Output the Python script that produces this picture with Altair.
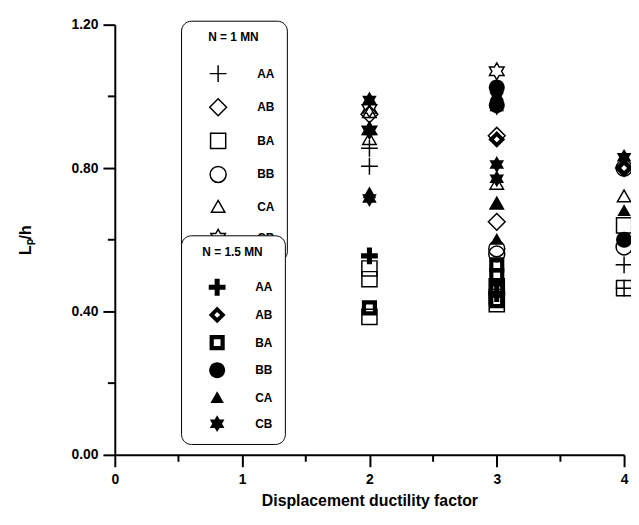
import math
import altair as alt
import pandas as pd

series = ["AA", "AB", "BA", "BB", "CA", "CB"]

# N = 1 MN (open symbols)
open_AA_x = [2, 2, 3, 4, 4]
open_AA_y = [0.855, 0.805, 0.45, 0.53, 0.465]
open_AB_x = [2, 3, 3, 4]
open_AB_y = [0.95, 0.89, 0.65, 0.80]
open_BA_x = [2, 2, 2, 3, 3, 3, 4, 4]
open_BA_y = [0.52, 0.49, 0.385, 0.47, 0.44, 0.42, 0.64, 0.465]
open_BB_x = [3, 3, 4, 4]
open_BB_y = [0.575, 0.56, 0.58, 0.80]
open_CA_x = [2, 2, 3, 3, 4]
open_CA_y = [0.955, 0.88, 0.755, 0.70, 0.72]
open_CB_x = [2, 2, 3]
open_CB_y = [0.965, 0.905, 1.07]

# N = 1.5 MN (filled symbols)
fill_AA_x = [2, 3]
fill_AA_y = [0.555, 0.45]
fill_AB_x = [3, 4]
fill_AB_y = [0.88, 0.80]
fill_BA_x = [2, 3, 3, 3, 3]
fill_BA_y = [0.41, 0.53, 0.50, 0.46, 0.43]
fill_BB_x = [3, 3, 4]
fill_BB_y = [1.025, 0.975, 0.60]
fill_CA_x = [2, 3, 3, 4]
fill_CA_y = [0.73, 0.70, 0.60, 0.68]
fill_CB_x = [2, 2, 2, 3, 3, 3, 3, 4]
fill_CB_y = [0.99, 0.905, 0.715, 1.00, 0.97, 0.81, 0.77, 0.83]

x_major = [0, 1, 2, 3, 4]
x_minor = [0.5, 1.5, 2.5, 3.5]
y_major = [0.0, 0.4, 0.8, 1.2]
y_minor = [0.2, 0.6, 1.0]

open_sets = {"AA": (open_AA_x, open_AA_y), "AB": (open_AB_x, open_AB_y),
             "BA": (open_BA_x, open_BA_y), "BB": (open_BB_x, open_BB_y),
             "CA": (open_CA_x, open_CA_y), "CB": (open_CB_x, open_CB_y)}
fill_sets = {"AA": (fill_AA_x, fill_AA_y), "AB": (fill_AB_x, fill_AB_y),
             "BA": (fill_BA_x, fill_BA_y), "BB": (fill_BB_x, fill_BB_y),
             "CA": (fill_CA_x, fill_CA_y), "CB": (fill_CB_x, fill_CB_y)}

def to_df(sets, col):
    rows = []
    for s, (xs, ys) in sets.items():
        for xv, yv in zip(xs, ys):
            rows.append({"x": xv, "y": yv, col: s})
    return pd.DataFrame(rows)

df_open = to_df(open_sets, "s1")
df_fill = to_df(fill_sets, "s2")

# symbol shapes
def star_path():
    pts = []
    for k in range(12):
        a = math.radians(-90 + 30 * k)
        r = 1.0 if k % 2 == 0 else 0.58
        pts.append(f"{r*math.cos(a):.3f},{r*math.sin(a):.3f}")
    return "M" + "L".join(pts) + "Z"

STAR = star_path()
THIN_PLUS = "M-1,0L1,0M0,-1L0,1"
THICK_PLUS = "M-1,-0.3L-0.3,-0.3L-0.3,-1L0.3,-1L0.3,-0.3L1,-0.3L1,0.3L0.3,0.3L0.3,1L-0.3,1L-0.3,0.3L-1,0.3Z"
DIAMOND = "M0,-1L1,0L0,1L-1,0Z"
DIAMOND_HOLE = "M0,-1L1,0L0,1L-1,0Z M0,-0.35L-0.35,0L0,0.35L0.35,0Z"
SQUARE = "M-0.9,-0.9L0.9,-0.9L0.9,0.9L-0.9,0.9Z"
SQUARE_HOLE = "M-0.9,-0.9L0.9,-0.9L0.9,0.9L-0.9,0.9Z M-0.4,-0.4L-0.4,0.4L0.4,0.4L0.4,-0.4Z"
CIRCLE = "M-0.95,0A0.95,0.95 0 1,1 0.95,0A0.95,0.95 0 1,1 -0.95,0Z"
TRIANGLE = "M0,-0.8L0.8,0.6L-0.8,0.6Z"

open_shapes = [THIN_PLUS, DIAMOND, SQUARE, CIRCLE, TRIANGLE, STAR]
fill_shapes = [THICK_PLUS, DIAMOND_HOLE, SQUARE_HOLE, CIRCLE, TRIANGLE, STAR]

FONT = "Liberation Sans"
SIZE = 289
W, H = 515, 435

xaxis = alt.Axis(values=x_major, format="d", tickSize=12, tickWidth=2, tickColor="black",
                 domainWidth=2, domainColor="black", grid=False, labelFlush=False,
                 labelFont=FONT, labelFontSize=14, labelFontWeight="bold", labelColor="black",
                 labelPadding=6, title="Displacement ductility factor", titleFont=FONT,
                 titleFontSize=16, titleFontWeight="bold", titleColor="black", titlePadding=6)
yaxis = alt.Axis(values=y_major, format=".2f", tickSize=12, tickWidth=2, tickColor="black",
                 domainWidth=2, domainColor="black", grid=False, labelFlush=False,
                 labelFont=FONT, labelFontSize=14, labelFontWeight="bold", labelColor="black",
                 labelPadding=5, title="Lₚ/h", titleFont=FONT, titleFontSize=16,
                 titleFontWeight="bold", titleColor="black", titleX=-90,
                 titleBaseline="middle", titleAlign="center")

xs = alt.Scale(domain=[0, 4], nice=False, zero=False)
ys = alt.Scale(domain=[0, 1.2], nice=False, zero=False)

def legend(title, ly, filled):
    kw = dict(title=title, orient="none", legendX=67, legendY=ly, strokeColor="black",
              fillColor="white", cornerRadius=10, padding=12, titleFont=FONT, titleFontSize=12,
              titleFontWeight="bold", titleColor="black", titleAnchor="middle", titlePadding=20,
              labelFont=FONT, labelFontSize=12, labelFontWeight="bold", labelColor="black",
              labelOffset=30, symbolOffset=16, symbolSize=SIZE, symbolStrokeColor="black",
              symbolOpacity=1, rowPadding=11)
    if filled:
        kw.update(symbolFillColor="black", symbolStrokeWidth=0)
    else:
        kw.update(symbolStrokeWidth=1.5)
    return alt.Legend(**kw)

open_layer = alt.Chart(df_open).mark_point(filled=False, color="black", strokeWidth=1.5,
                                           size=SIZE, opacity=1).encode(
    x=alt.X("x:Q", scale=xs, axis=xaxis),
    y=alt.Y("y:Q", scale=ys, axis=yaxis),
    shape=alt.Shape("s1:N", scale=alt.Scale(domain=series, range=open_shapes),
                    legend=legend("N = 1 MN", -4, False)),
)

fill_layer = alt.Chart(df_fill).mark_point(filled=True, color="black", size=SIZE,
                                           opacity=1).encode(
    x=alt.X("x:Q", scale=xs, axis=xaxis),
    y=alt.Y("y:Q", scale=ys, axis=yaxis),
    shape=alt.Shape("s2:N", scale=alt.Scale(domain=series, range=fill_shapes),
                    legend=legend("N = 1.5 MN", 213, True)),
)

ymin_layer = alt.Chart(pd.DataFrame({"y": y_minor})).mark_rule(color="black", strokeWidth=2).encode(
    y=alt.Y("y:Q", scale=ys, axis=yaxis), x=alt.value(-7), x2=alt.value(0))
xmin_layer = alt.Chart(pd.DataFrame({"x": x_minor})).mark_rule(color="black", strokeWidth=2).encode(
    x=alt.X("x:Q", scale=xs, axis=xaxis), y=alt.value(H), y2=alt.value(H + 7))

chart = alt.layer(ymin_layer, xmin_layer, open_layer, fill_layer).resolve_scale(
    shape="independent"
).properties(
    width=W, height=H,
    autosize=alt.AutoSizeParams(type="none"),
    padding={"left": 108, "top": 14, "right": 7, "bottom": 60},
).configure_view(stroke=None)

chart.save("out.html", embed_options={"renderer": "svg", "actions": False})
